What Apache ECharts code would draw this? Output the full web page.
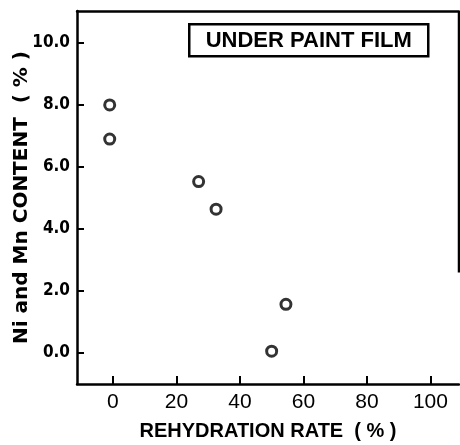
<!DOCTYPE html>
<html>
<head>
<meta charset="utf-8">
<script src="https://cdn.jsdelivr.net/npm/echarts@6/dist/echarts.min.js"></script>
<style>
  html, body { margin: 0; padding: 0; background: #fff; }
  #chart { width: 460px; height: 445px; }
</style>
</head>
<body>
<div id="chart"></div>
<script>
// Rehydration rate (%) vs. Ni and Mn content (%) under paint film
const rehydrationRate = [-1, -1, 27, 32.5, 50, 54.5];
const niMnContent = [80, 69, 55.3, 46.4, 0.6, 15.7];

const xTickValues = [0, 20, 40, 60, 80, 100];
const xTickLabels = ['0', '20', '40', '60', '80', '100'];
const yTickValues = [0, 20, 40, 60, 80, 100];
const yTickLabels = ['0.0', '2.0', '4.0', '6.0', '8.0', '10.0'];

const xRange = [-11.3, 109];
const yRange = [-10, 110.3];

const boxTitle = 'UNDER PAINT FILM';
const xName = 'REHYDRATION RATE  ( % )';
const yName = 'Ni and Mn CONTENT  ( % )';

const ink = '#000';
const chart = echarts.init(document.getElementById('chart'), null, { renderer: 'canvas' });

const points = rehydrationRate.map((x, i) => [x, niMnContent[i]]);

chart.setOption({
  animation: false,
  backgroundColor: '#fff',
  grid: { left: 77, right: 1, top: 11, bottom: 61, containLabel: false, outerBoundsMode: 'none' },
  xAxis: [{
    type: 'value',
    min: xRange[0], max: xRange[1],
    splitLine: { show: false },
    axisLine: { show: true, onZero: false, lineStyle: { color: ink, width: 2.5 } },
    axisTick: { show: true, inside: true, length: 8, customValues: xTickValues, lineStyle: { color: ink, width: 2 } },
    axisLabel: {
      customValues: xTickValues,
      margin: 8,
      color: ink, fontSize: 21, fontFamily: 'Liberation Sans, Arial, sans-serif',
      formatter: v => xTickLabels[xTickValues.indexOf(Math.round(v))] ?? ''
    },
    name: xName,
    nameLocation: 'middle',
    nameGap: 37,
    nameMoveOverlap: false,
    nameTextStyle: { color: ink, fontSize: 20, fontWeight: 'bold', fontFamily: 'Liberation Sans, Arial, sans-serif' }
  }, {
    type: 'value', position: 'top',
    min: xRange[0], max: xRange[1],
    splitLine: { show: false },
    axisLine: { show: true, onZero: false, lineStyle: { color: ink, width: 2.5 } },
    axisTick: { show: false }, axisLabel: { show: false }
  }],
  yAxis: [{
    type: 'value',
    min: yRange[0], max: yRange[1],
    splitLine: { show: false },
    axisLine: { show: true, onZero: false, lineStyle: { color: ink, width: 2.5 } },
    axisTick: { show: true, inside: true, length: 7, customValues: yTickValues, lineStyle: { color: ink, width: 2 } },
    axisLabel: {
      customValues: yTickValues,
      margin: 7,
      color: ink, fontSize: 17, fontWeight: 'bold',
      fontFamily: 'DejaVu Sans Condensed, Liberation Sans Narrow, sans-serif',
      formatter: v => yTickLabels[yTickValues.indexOf(Math.round(v))] ?? ''
    },
    name: yName,
    nameLocation: 'middle',
    nameGap: 45,
    nameRotate: 90,
    nameMoveOverlap: false,
    nameTextStyle: { color: ink, fontSize: 20, fontWeight: 'bold', fontFamily: 'DejaVu Sans, sans-serif' }
  }],
  series: [{
    type: 'scatter',
    data: points,
    symbol: 'circle',
    symbolSize: 10,
    itemStyle: { color: '#fff', borderColor: ink, borderWidth: 3 },
    emphasis: { disabled: true }
  }]
});

// Right frame edge (upper part only) and the boxed caption
const topRight = chart.convertToPixel({ gridIndex: 0 }, [xRange[1], yRange[1]]);
const rightEnd = chart.convertToPixel({ gridIndex: 0 }, [xRange[1], 26]);
chart.setOption({
  graphic: [{
    type: 'line',
    shape: { x1: topRight[0], y1: topRight[1], x2: rightEnd[0], y2: rightEnd[1] },
    style: { stroke: ink, lineWidth: 2.5 }
  }, {
    type: 'group', left: 188, top: 23,
    children: [{
      type: 'rect',
      shape: { x: 0, y: 0, width: 239, height: 32 },
      style: { fill: '#fff', stroke: ink, lineWidth: 2.5 }
    }, {
      type: 'text',
      x: 119.5, y: 17,
      style: {
        text: boxTitle, fill: ink,
        font: 'bold 22px "Liberation Sans", Arial, sans-serif',
        align: 'center', verticalAlign: 'middle'
      }
    }]
  }]
});
</script>
</body>
</html>
